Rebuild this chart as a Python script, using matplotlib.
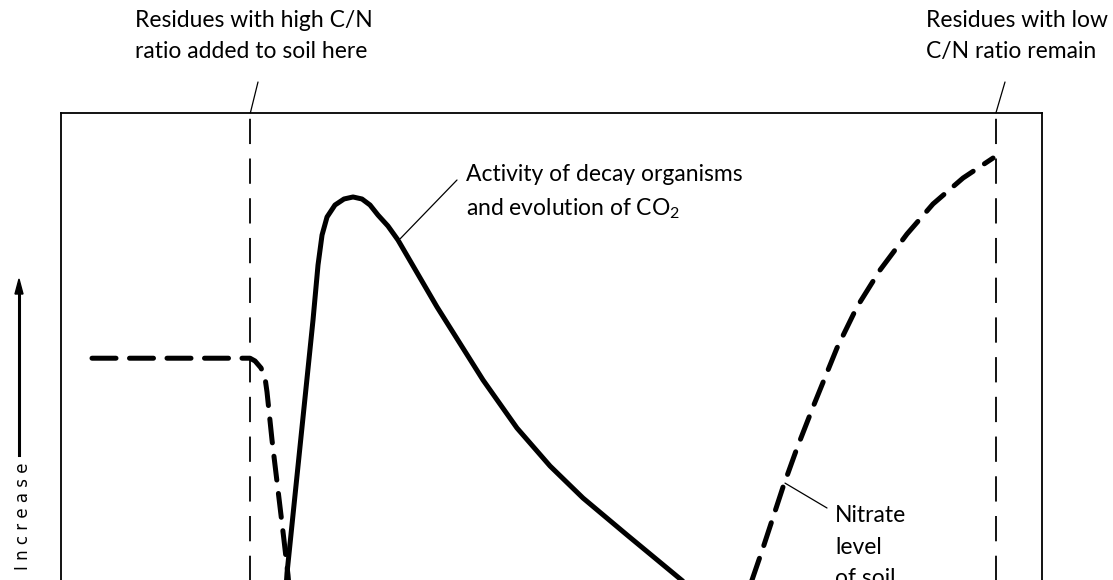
import matplotlib.pyplot as plt

# Time axis runs 0..100 across the frame, level 0..100 from bottom to top
residue_added_t = 19.3
residue_remain_t = 95.3

# Activity of decay organisms / CO2 evolution (solid)
activity_t = [22.73, 23.04, 25.69, 26.20, 26.61, 27.12, 27.93, 28.85, 29.77,
              30.68, 31.50, 32.31, 33.33, 34.35, 38.33, 43.02, 46.48, 49.85,
              53.21, 57.70, 62.39, 67.18]
activity_lvl = [21.64, 28.90, 68.01, 76.51, 81.14, 83.93, 85.78, 86.71, 87.02,
                86.71, 85.78, 84.23, 82.53, 80.37, 70.02, 58.73, 51.31, 45.44,
                40.49, 34.78, 28.90, 22.87]

# Nitrate level of soil (dashed)
nitrate_t = [3.16, 19.27, 19.78, 20.39, 20.80, 21.00, 21.51, 22.12, 22.73,
             23.14, 23.45, 23.95, 65.0, 68.8, 70.44, 71.56, 73.60, 75.03,
             76.66, 79.10, 81.14, 83.49, 86.24, 88.89, 91.95, 95.01]
nitrate_lvl = [62.1, 62.1, 61.67, 60.59, 59.04, 56.88, 49.46, 41.73, 34.00,
               28.59, 23.18, 18.55, 15.5, 20.5, 27.82, 32.77, 42.19, 48.22,
               54.56, 63.68, 70.02, 75.73, 81.30, 85.94, 89.95, 93.04]

W, H = 1113, 580

label_font = 'Lato'
plt.rcParams['mathtext.fontset'] = 'custom'
plt.rcParams['mathtext.rm'] = label_font
plt.rcParams['mathtext.it'] = label_font

fig = plt.figure(figsize=(W / 100, H / 100), dpi=100)
fig.patch.set_facecolor('white')

# frame runs past the bottom edge of the figure
left_px, right_px, top_px, bottom_px = 61, 1042, 113, 760
ax = fig.add_axes([left_px / W, 1 - bottom_px / H,
                   (right_px - left_px) / W, (bottom_px - top_px) / H])
ax.set_xlim(0, 100)
ax.set_ylim(0, 100)
ax.set_xticks([])
ax.set_yticks([])
for s in ax.spines.values():
    s.set_linewidth(1.3)
    s.set_color('black')

# residue markers
for t in (residue_added_t, residue_remain_t):
    ax.axvline(t, color='black', lw=1.3, dashes=(14, 8))

ax.plot(activity_t, activity_lvl, color='black', lw=3.6,
        solid_joinstyle='round', solid_capstyle='round')
ax.plot(nitrate_t, nitrate_lvl, color='black', lw=3.6,
        dashes=(4.8, 2.7), dash_capstyle='round', dash_joinstyle='round')

fs = 16.5
txt = dict(fontsize=fs, family=label_font, va='center', ha='left',
           linespacing=1.6, color='black')

fig.text(135 / W, 1 - 36 / H, 'Residues with high C/N\nratio added to soil here', **txt)
fig.text(1108 / W, 1 - 36 / H, 'Residues with low\nC/N ratio remain',
         **{**txt, 'ha': 'right', 'multialignment': 'left'})
fig.text(466 / W, 1 - 193 / H, 'Activity of decay organisms\nand evolution of CO$_2$', **txt)
fig.text(835 / W, 1 - 547 / H, 'Nitrate\nlevel\nof soil', **txt)

# leader lines
lead = dict(arrowstyle='-', lw=0.9, color='black', shrinkA=0, shrinkB=0)
ax.annotate('', xy=(residue_added_t, 100), xycoords='data',
            xytext=(258, H - 82), textcoords='figure pixels', arrowprops=lead)
ax.annotate('', xy=(residue_remain_t, 100), xycoords='data',
            xytext=(1005, H - 82), textcoords='figure pixels', arrowprops=lead)
ax.annotate('', xy=(34.6, 80.6), xycoords='data',
            xytext=(457, H - 180), textcoords='figure pixels', arrowprops=lead)
ax.annotate('', xy=(73.8, 42.8), xycoords='data',
            xytext=(827, H - 508), textcoords='figure pixels', arrowprops=lead)

# y-axis direction label
fig.text(23 / W, 1 - 516 / H, 'I n c r e a s e', rotation=90, fontsize=12,
         family='DejaVu Sans', ha='center', va='center', color='black')
fig.add_artist(plt.Line2D([19 / W, 19 / W], [1 - 455 / H, 1 - 292 / H],
                          color='black', lw=2.2))
fig.patches.append(plt.Polygon([[15 / W, 1 - 294 / H], [23 / W, 1 - 294 / H],
                                [19 / W, 1 - 279 / H]], closed=True,
                               color='black', transform=fig.transFigure))

fig.savefig('out.png', dpi=100)
